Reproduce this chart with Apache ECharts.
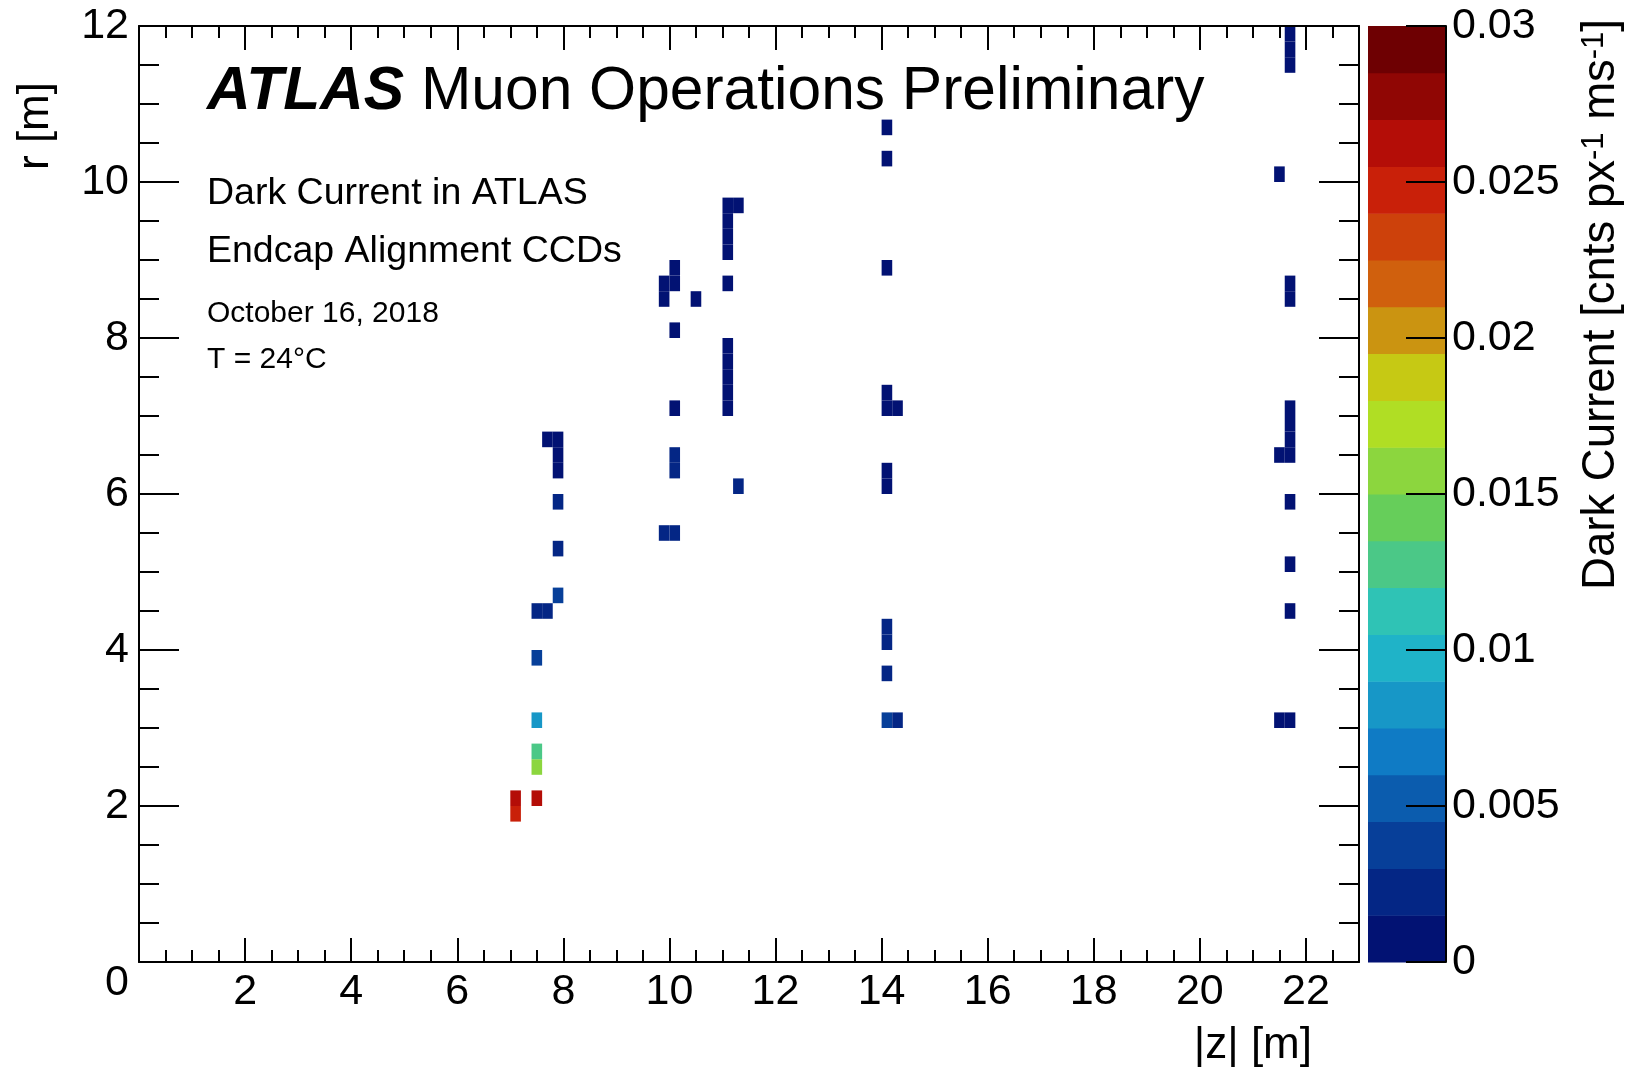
<!DOCTYPE html>
<html>
<head>
<meta charset="utf-8">
<script src="https://cdn.jsdelivr.net/npm/echarts@6/dist/echarts.min.js"></script>
<style>
  html, body { margin: 0; padding: 0; background: #ffffff; }
  #chart { width: 1642px; height: 1072px; }
</style>
</head>
<body>
<div id="chart"></div>
<script>
const FONT = "'Liberation Sans', Arial, Helvetica, sans-serif";

// CCD bins: lower edges in |z| and r (metres), dark current in cnts px^-1 ms^-1
const binZ = [
  7.0, 7.0,
  7.4, 7.4, 7.4, 7.4, 7.4, 7.4,
  7.6, 7.6,
  7.8, 7.8, 7.8, 7.8, 7.8, 7.8,
  9.8, 9.8, 9.8,
  10.0, 10.0, 10.0, 10.0, 10.0, 10.0, 10.0,
  10.4,
  11.0, 11.0, 11.0, 11.0, 11.0, 11.0, 11.0, 11.0, 11.0, 11.0,
  11.2, 11.2,
  14.0, 14.0, 14.0, 14.0, 14.0, 14.0, 14.0, 14.0, 14.0, 14.0, 14.0,
  14.2, 14.2,
  21.4, 21.4, 21.4,
  21.6, 21.6, 21.6, 21.6, 21.6, 21.6, 21.6, 21.6, 21.6, 21.6, 21.6, 21.6, 21.6
];
const binR = [
  1.8, 2.0,
  2.0, 2.4, 2.6, 3.0, 3.8, 4.4,
  4.4, 6.6,
  4.6, 5.2, 5.8, 6.2, 6.4, 6.6,
  5.4, 8.4, 8.6,
  5.4, 6.2, 6.4, 7.0, 8.0, 8.6, 8.8,
  8.4,
  7.0, 7.2, 7.4, 7.6, 7.8, 8.6, 9.0, 9.2, 9.4, 9.6,
  6.0, 9.6,
  3.0, 3.6, 4.0, 4.2, 6.0, 6.2, 7.0, 7.2, 8.8, 10.2, 10.6,
  3.0, 7.0,
  3.0, 6.4, 10.0,
  3.0, 4.4, 5.0, 5.8, 6.4, 6.6, 6.8, 7.0, 8.4, 8.6, 11.4, 11.6, 11.8
];
const darkCurrent = [
  0.0249, 0.0262,
  0.0264, 0.0157, 0.0129, 0.0083, 0.0038, 0.0023,
  0.0021, 0.0009,
  0.0037, 0.0024, 0.0022, 0.0008, 0.0007, 0.0009,
  0.0019, 0.0009, 0.0010,
  0.0020, 0.0018, 0.0017, 0.0011, 0.0010, 0.0009, 0.0008,
  0.0010,
  0.0009, 0.0008, 0.0009, 0.0010, 0.0009, 0.0008, 0.0009, 0.0010, 0.0009, 0.0008,
  0.0019, 0.0008,
  0.0034, 0.0021, 0.0019, 0.0018, 0.0010, 0.0009, 0.0008, 0.0009, 0.0010, 0.0009, 0.0008,
  0.0024, 0.0010,
  0.0008, 0.0009, 0.0008,
  0.0009, 0.0008, 0.0009, 0.0008, 0.0007, 0.0008, 0.0009, 0.0008, 0.0009, 0.0008, 0.0007, 0.0008, 0.0009
];

// histogram binning
const binWidthZ = 0.2;
const binWidthR = 0.2;

// colour scale: 20 contour levels between 0 and 0.03
const contourEdges = [
  0, 0.0015, 0.003, 0.0045, 0.006, 0.0075, 0.009, 0.0105, 0.012, 0.0135, 0.015,
  0.0165, 0.018, 0.0195, 0.021, 0.0225, 0.024, 0.0255, 0.027, 0.0285, 0.03
];
const paletteColors = [
  '#021273', '#042685', '#073f99', '#0b5cae', '#0f7bc5',
  '#1797c7', '#1fb3c8', '#2fc3b5', '#4bc887', '#66ce5a',
  '#8cd63e', '#b0de24', '#c6c914', '#cb9411', '#d0600d',
  '#cd410b', '#c92009', '#b40d07', '#900604', '#6e0002'
];

// axis tick labels
const zTickLabels = ['2', '4', '6', '8', '10', '12', '14', '16', '18', '20', '22'];
const rTickLabels = ['0', '2', '4', '6', '8', '10', '12'];
const colorbarLabels = ['0', '0.005', '0.01', '0.015', '0.02', '0.025', '0.03'];

function levelColor(v) {
  for (let i = 0; i < paletteColors.length; i++) {
    if (v >= contourEdges[i] && v < contourEdges[i + 1]) return paletteColors[i];
  }
  return paletteColors[paletteColors.length - 1];
}

const binData = binZ.map((z, i) => [z, binR[i], darkCurrent[i]]);
const bandData = paletteColors.map((c, i) => [contourEdges[i], contourEdges[i + 1], i]);

const black = '#000000';
const lineW = 2;

function tickAxis(extra) {
  return Object.assign({
    type: 'value',
    z: 5,
    axisLine: { show: false, onZero: false, lineStyle: { color: black, width: lineW } },
    axisTick: { show: true, inside: true, lineStyle: { color: black, width: lineW } },
    axisLabel: { show: false },
    splitLine: { show: false },
    minorSplitLine: { show: false }
  }, extra);
}

const labelStyle = { fontSize: 43, fontFamily: FONT, color: black };

const option = {
  animation: false,
  backgroundColor: '#ffffff',
  grid: [
    { left: 139, top: 26, width: 1220, height: 936 },
    { left: 1368, top: 26, width: 78, height: 936 }
  ],
  xAxis: [
    // bottom: major ticks with labels
    tickAxis({
      gridIndex: 0, min: 0, max: 23, interval: 2, position: 'bottom',
      axisLine: { show: true, onZero: false, lineStyle: { color: black, width: lineW } },
      axisTick: { show: true, inside: true, length: 24, lineStyle: { color: black, width: lineW } },
      axisLabel: Object.assign({
        show: true, margin: 9,
        formatter: v => (zTickLabels.indexOf(String(v)) >= 0 ? String(v) : '')
      }, labelStyle)
    }),
    // bottom: minor ticks
    tickAxis({
      gridIndex: 0, min: 0, max: 23, interval: 0.5, position: 'bottom',
      axisTick: { show: true, inside: true, length: 12, lineStyle: { color: black, width: lineW } }
    }),
    // top: major ticks
    tickAxis({
      gridIndex: 0, min: 0, max: 23, interval: 2, position: 'top',
      axisLine: { show: true, onZero: false, lineStyle: { color: black, width: lineW } },
      axisTick: { show: true, inside: true, length: 24, lineStyle: { color: black, width: lineW } }
    }),
    // top: minor ticks
    tickAxis({
      gridIndex: 0, min: 0, max: 23, interval: 0.5, position: 'top',
      axisTick: { show: true, inside: true, length: 12, lineStyle: { color: black, width: lineW } }
    }),
    // colour bar horizontal span
    { gridIndex: 1, type: 'value', min: 0, max: 1, show: false }
  ],
  yAxis: [
    tickAxis({
      gridIndex: 0, min: 0, max: 12, interval: 2, position: 'left',
      axisLine: { show: true, onZero: false, lineStyle: { color: black, width: lineW } },
      axisTick: { show: true, inside: true, length: 40, lineStyle: { color: black, width: lineW } },
      minorTick: { show: true, splitNumber: 4, length: 20, lineStyle: { color: black, width: lineW } },
      axisLabel: Object.assign({
        show: true, margin: 10, showMinLabel: true, showMaxLabel: true,
        formatter: v => {
          const s = String(v);
          if (rTickLabels.indexOf(s) < 0) return '';
          return v === 0 ? '{o|0}' : s;
        },
        rich: { o: { fontSize: 43, fontFamily: FONT, color: black, padding: [42, 0, 0, 0] } }
      }, labelStyle)
    }),
    tickAxis({
      gridIndex: 0, min: 0, max: 12, interval: 2, position: 'right',
      axisLine: { show: true, onZero: false, lineStyle: { color: black, width: lineW } },
      axisTick: { show: true, inside: true, length: 40, lineStyle: { color: black, width: lineW } },
      minorTick: { show: true, splitNumber: 4, length: 20, lineStyle: { color: black, width: lineW } }
    }),
    // colour bar scale
    tickAxis({
      gridIndex: 1, min: 0, max: 0.03, interval: 0.005, position: 'right',
      axisLine: { show: true, onZero: false, lineStyle: { color: black, width: lineW } },
      axisTick: { show: true, inside: true, length: 40, lineStyle: { color: black, width: lineW } },
      axisLabel: Object.assign({
        show: true, margin: 6, showMinLabel: true, showMaxLabel: true,
        formatter: v => {
          const i = Math.round(v / 0.005);
          return colorbarLabels[i] !== undefined ? colorbarLabels[i] : '';
        }
      }, labelStyle)
    })
  ],
  series: [
    {
      type: 'custom',
      name: 'dark current',
      xAxisIndex: 0,
      yAxisIndex: 0,
      z: 2,
      silent: true,
      clip: true,
      data: binData,
      encode: { x: 0, y: 1 },
      renderItem: function (params, api) {
        const z0 = api.value(0);
        const r0 = api.value(1);
        const v = api.value(2);
        const pA = api.coord([z0, r0 + binWidthR]);
        const pB = api.coord([z0 + binWidthZ, r0]);
        return {
          type: 'rect',
          shape: { x: pA[0], y: pA[1], width: pB[0] - pA[0], height: pB[1] - pA[1] },
          style: { fill: levelColor(v) }
        };
      }
    },
    {
      type: 'custom',
      name: 'palette',
      xAxisIndex: 4,
      yAxisIndex: 2,
      z: 1,
      silent: true,
      data: bandData,
      encode: { y: [0, 1] },
      renderItem: function (params, api) {
        const lo = api.value(0);
        const hi = api.value(1);
        const idx = api.value(2);
        const pA = api.coord([0, hi]);
        const pB = api.coord([1, lo]);
        return {
          type: 'rect',
          shape: { x: pA[0], y: pA[1], width: pB[0] - pA[0], height: pB[1] - pA[1] + 0.5 },
          style: { fill: paletteColors[idx] }
        };
      }
    }
  ],
  graphic: [
    {
      type: 'text', x: 207, y: 92, z: 10,
      style: {
        text: '{a|ATLAS} {b|Muon Operations Preliminary}',
        fontSize: 60.5, fontFamily: FONT, fill: black, verticalAlign: 'middle',
        rich: {
          a: { fontSize: 60.5, fontFamily: FONT, fontWeight: 'bold', fontStyle: 'italic', fill: black },
          b: { fontSize: 60.5, fontFamily: FONT, fill: black }
        }
      }
    },
    {
      type: 'text', x: 207, y: 194, z: 10,
      style: { text: 'Dark Current in ATLAS', fontSize: 37.5, fontFamily: FONT, fill: black, verticalAlign: 'middle' }
    },
    {
      type: 'text', x: 207, y: 252, z: 10,
      style: { text: 'Endcap Alignment CCDs', fontSize: 37.5, fontFamily: FONT, fill: black, verticalAlign: 'middle' }
    },
    {
      type: 'text', x: 207, y: 314, z: 10,
      style: { text: 'October 16, 2018', fontSize: 30, fontFamily: FONT, fill: black, verticalAlign: 'middle' }
    },
    {
      type: 'text', x: 207, y: 360, z: 10,
      style: { text: 'T = 24\u00B0C', fontSize: 30, fontFamily: FONT, fill: black, verticalAlign: 'middle' }
    },
    {
      type: 'text', x: 1312, y: 1046, z: 10,
      style: { text: '|z| [m]', fontSize: 44, fontFamily: FONT, fill: black, align: 'right', verticalAlign: 'middle' }
    },
    {
      type: 'text', x: 36, y: 82, rotation: Math.PI / 2, z: 10,
      style: { text: 'r [m]', fontSize: 44, fontFamily: FONT, fill: black, align: 'right', verticalAlign: 'middle' }
    },
    {
      type: 'text', x: 1602, y: 19, rotation: Math.PI / 2, z: 10,
      style: {
        text: '{m|Dark Current [cnts px}{s|-1}{m| ms}{s|-1}{m|]}',
        fontSize: 45.5, fontFamily: FONT, fill: black, align: 'right', verticalAlign: 'middle',
        rich: {
          m: { fontSize: 45.5, lineHeight: 45.5, fontFamily: FONT, fill: black, verticalAlign: 'bottom', padding: [5, 0, 0, 0] },
          s: { fontSize: 31, lineHeight: 31, fontFamily: FONT, fill: black, verticalAlign: 'top' }
        }
      }
    }
  ]
};

const chart = echarts.init(document.getElementById('chart'), null, { renderer: 'canvas' });
chart.setOption(option);
</script>
</body>
</html>
